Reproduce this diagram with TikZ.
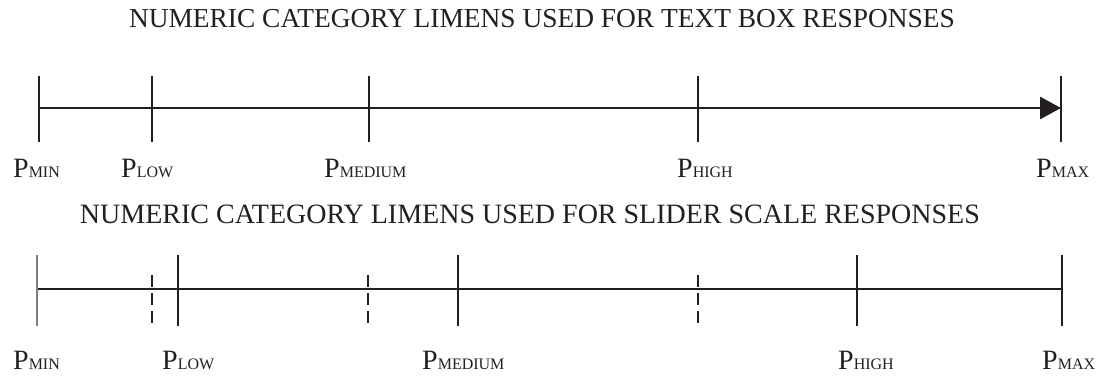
\documentclass[tikz,border=0pt]{standalone}
\usepackage{fontspec}
\setmainfont{Liberation Serif}
\usetikzlibrary{arrows.meta}
\definecolor{ink}{HTML}{231F20}
\newcommand{\plabel}[1]{{\fontsize{28}{30}\selectfont P}{\fontsize{16}{18}\selectfont #1}}
\begin{document}
\begin{tikzpicture}[x=1pt,y=-1pt,
  axisline/.style={line width=2.8pt,color=ink},
  tickline/.style={line width=2.8pt,color=ink},
  dashtick/.style={line width=2.8pt,color=ink,dash pattern=on 12pt off 6pt},
  graytick/.style={line width=2.8pt,color=black!50},
  titletext/.style={text=ink,inner sep=0pt,anchor=base},
  lbl/.style={text=ink,inner sep=0pt,anchor=base west}]
\useasboundingbox (0,0) rectangle (1097,377);

% titles
\node[titletext,font=\fontsize{27.4}{30}\selectfont] (t1) at (542,28) {NUMERIC CATEGORY LIMENS USED FOR TEXT BOX RESPONSES};
\node[titletext,font=\fontsize{28}{30}\selectfont] (t2) at (530,223) {NUMERIC CATEGORY LIMENS USED FOR SLIDER SCALE RESPONSES};

% ---- top axis ----
\foreach \n/\x in {amin/39,alow/152,amed/369,ahigh/698,amax/1061}{
  \coordinate (\n-t) at (\x,76);
  \coordinate (\n-m) at (\x,108);
  \coordinate (\n-b) at (\x,142);
}
\foreach \n in {amin,alow,amed,ahigh,amax}{\draw[tickline] (\n-t) -- (\n-b);}
\draw[axisline,-{Triangle[length=21pt,width=22pt]}] (amin-m) -- (amax-m);

\node[lbl] (la1) at (13,177) {\plabel{MIN}};
\node[lbl] (la2) at (121,177) {\plabel{LOW}};
\node[lbl] (la3) at (324,177) {\plabel{MEDIUM}};
\node[lbl] (la4) at (677,177) {\plabel{HIGH}};
\node[lbl] (la5) at (1036,177) {\plabel{MAX}};

% ---- bottom axis ----
\foreach \n/\x in {bmin/37,blow/178,bmed/458,bhigh/857,bmax/1062}{
  \coordinate (\n-t) at (\x,255);
  \coordinate (\n-m) at (\x,289);
  \coordinate (\n-b) at (\x,326);
}
\foreach \n/\x in {d1/152,d2/368,d3/698}{
  \coordinate (\n-t) at (\x,275);
  \coordinate (\n-b) at (\x,326);
}
\draw[axisline] (bmin-m) -- (bmax-m);
\draw[graytick] (bmin-t) -- (bmin-b);
\foreach \n in {blow,bmed,bhigh,bmax}{\draw[tickline] (\n-t) -- (\n-b);}
\foreach \n in {d1,d2,d3}{\draw[dashtick] (\n-t) -- (\n-b);}

\node[lbl] (lb1) at (13,369) {\plabel{MIN}};
\node[lbl] (lb2) at (162,369) {\plabel{LOW}};
\node[lbl] (lb3) at (422,369) {\plabel{MEDIUM}};
\node[lbl] (lb4) at (838,369) {\plabel{HIGH}};
\node[lbl] (lb5) at (1042,369) {\plabel{MAX}};
\end{tikzpicture}
\end{document}
